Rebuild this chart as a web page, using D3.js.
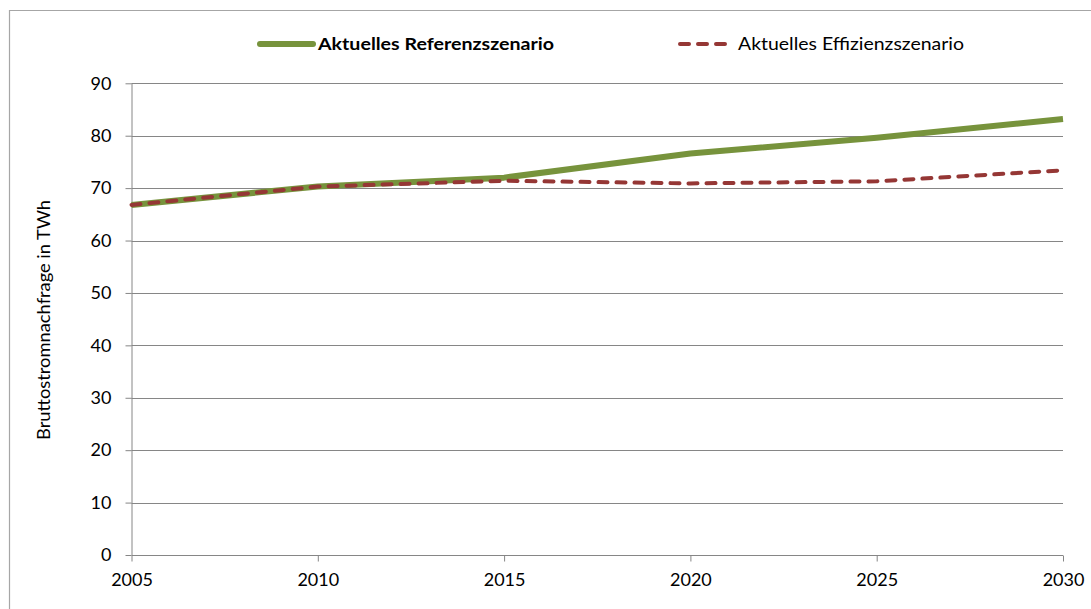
<!DOCTYPE html>
<html>
<head>
<meta charset="utf-8">
<script src="https://cdn.jsdelivr.net/npm/d3@7"></script>
<style>
  html, body { margin: 0; padding: 0; background: #fff; }
  svg { display: block; font-family: Lato, "Open Sans", sans-serif; }
</style>
</head>
<body>
<svg id="chart" width="1091" height="609"></svg>
<script>
// Gross electricity demand scenarios (TWh)
const years = [2005, 2010, 2015, 2020, 2025, 2030];
const referenz = [66.8, 70.3, 72.0, 76.6, 79.6, 83.2];
const effizienz = [66.8, 70.3, 71.4, 70.9, 71.3, 73.4];
const seriesNames = ["Aktuelles Referenzszenario", "Aktuelles Effizienzszenario"];
const yTicks = [0, 10, 20, 30, 40, 50, 60, 70, 80, 90];
const xTicks = [2005, 2010, 2015, 2020, 2025, 2030];
const yTitle = "Bruttostromnachfrage in TWh";

const svg = d3.select("#chart");
const W = 1091, H = 609;

const x = d3.scaleLinear().domain([2005, 2030]).range([131.5, 1063]);
const y = d3.scaleLinear().domain([0, 90]).range([555, 83.3]);

const gridColor = "#868686";
const green = "#77933C";
const red = "#953735";

// outer frame
svg.append("path")
  .attr("d", `M9.5,${H + 2} V10.5 H${W + 2}`)
  .attr("fill", "none").attr("stroke", "#a6a6a6").attr("stroke-width", 1.2);

// horizontal gridlines
svg.append("g").selectAll("line").data(yTicks.filter(d => d > 0)).join("line")
  .attr("x1", x(2005)).attr("x2", x(2030))
  .attr("y1", d => Math.round(y(d)) + 0.5).attr("y2", d => Math.round(y(d)) + 0.5)
  .attr("stroke", gridColor).attr("stroke-width", 1);

// y axis
const yAxis = svg.append("g")
  .attr("transform", `translate(${x(2005)},0)`)
  .call(d3.axisLeft(y).tickValues(yTicks).tickSize(6).tickPadding(14).tickFormat(d3.format("d")));
yAxis.select(".domain").attr("stroke", gridColor).attr("d", `M0.5,${y(90)}V${y(0)}`);
yAxis.selectAll(".tick line").attr("stroke", gridColor);
yAxis.selectAll(".tick text").attr("font-size", 18).attr("fill", "#000")
  .attr("font-family", "Lato, sans-serif");

// x axis
const xAxis = svg.append("g")
  .attr("transform", `translate(0,${Math.round(y(0)) + 0.5})`)
  .call(d3.axisBottom(x).tickValues(xTicks).tickSize(6).tickPadding(12).tickFormat(d3.format("d")));
xAxis.select(".domain").attr("stroke", gridColor).attr("d", `M${x(2005)},0H${x(2030)}`);
xAxis.selectAll(".tick line").attr("stroke", gridColor);
xAxis.selectAll(".tick text").attr("font-size", 18).attr("fill", "#000")
  .attr("font-family", "Lato, sans-serif");

// y axis title
svg.append("text")
  .attr("transform", `translate(50,320) rotate(-90)`)
  .attr("text-anchor", "middle")
  .attr("font-size", 18).attr("fill", "#000")
  .attr("textLength", 240).attr("lengthAdjust", "spacingAndGlyphs")
  .text(yTitle);

const line = d3.line().x(d => x(d[0])).y(d => y(d[1]));

// reference scenario
svg.append("path")
  .datum(years.map((yr, i) => [yr, referenz[i]]))
  .attr("d", line).attr("fill", "none")
  .attr("stroke", green).attr("stroke-width", 6).attr("stroke-linejoin", "round");

// efficiency scenario
svg.append("path")
  .datum(years.map((yr, i) => [yr, effizienz[i]]))
  .attr("d", line).attr("fill", "none")
  .attr("stroke", red).attr("stroke-width", 4)
  .attr("stroke-dasharray", "9,9").attr("stroke-linecap", "round");

// legend
const legY = 44;
svg.append("line").attr("x1", 260).attr("x2", 313).attr("y1", legY).attr("y2", legY)
  .attr("stroke", green).attr("stroke-width", 6).attr("stroke-linecap", "round");
svg.append("text").attr("x", 318).attr("y", legY).attr("dy", "0.35em")
  .attr("font-size", 17).attr("font-weight", "bold").attr("fill", "#000")
  .attr("textLength", 236).attr("lengthAdjust", "spacingAndGlyphs")
  .text(seriesNames[0]);
svg.append("line").attr("x1", 680).attr("x2", 728).attr("y1", legY).attr("y2", legY)
  .attr("stroke", red).attr("stroke-width", 4)
  .attr("stroke-dasharray", "9,9").attr("stroke-linecap", "round");
svg.append("text").attr("x", 738).attr("y", legY).attr("dy", "0.35em")
  .attr("font-size", 17).attr("fill", "#000")
  .attr("textLength", 226).attr("lengthAdjust", "spacingAndGlyphs")
  .text(seriesNames[1]);
</script>
</body>
</html>
